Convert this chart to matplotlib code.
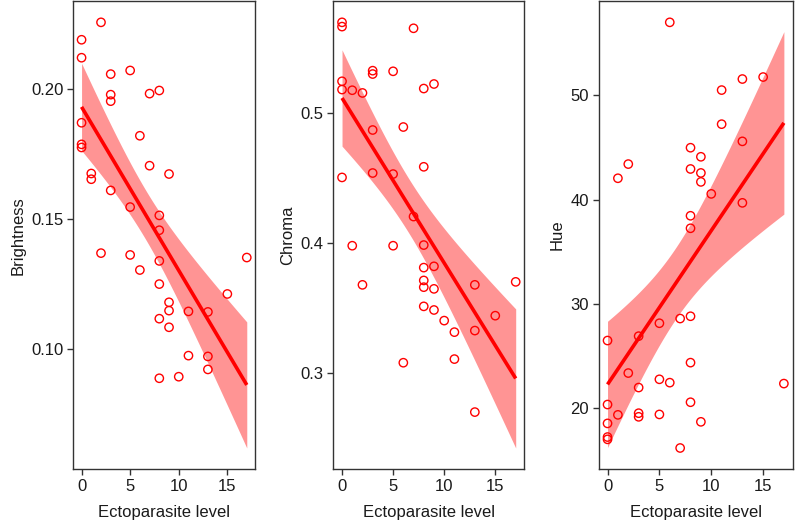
import numpy as np
import matplotlib
matplotlib.use("Agg")
import matplotlib.pyplot as plt

plt.rcParams['font.family'] = ['Liberation Sans', 'DejaVu Sans']

# Ectoparasite level shared by all three panels (one value per bird)
ecto = [0, 0, 0, 0, 0, 1, 1, 2, 2, 3, 3, 3, 3, 5, 5, 5, 6, 6, 7, 7,
        8, 8, 8, 8, 8, 8, 8, 9, 9, 9, 9, 10, 11, 11, 13, 13, 13, 15, 17]

brightness = [0.2189, 0.2120, 0.1870, 0.1787, 0.1775,
              0.1675, 0.1653,
              0.2256, 0.1369,
              0.2057, 0.1978, 0.1953, 0.1610,
              0.2071, 0.1546, 0.1362,
              0.1820, 0.1304,
              0.1982, 0.1705,
              0.1994, 0.1514, 0.1457, 0.1339, 0.1250, 0.1117, 0.0888,
              0.1673, 0.1180, 0.1148, 0.1084,
              0.0894,
              0.1145, 0.0975,
              0.1143, 0.0972, 0.0922,
              0.1212,
              0.1352]

chroma = [0.5703, 0.5670, 0.5248, 0.5184, 0.4506,
          0.5179, 0.3979,
          0.5158, 0.3677,
          0.5330, 0.5304, 0.4872, 0.4540,
          0.5325, 0.4532, 0.3979,
          0.4895, 0.3076,
          0.5657, 0.4204,
          0.5192, 0.4588, 0.3984, 0.3810, 0.3711, 0.3659, 0.3511,
          0.5227, 0.3820, 0.3646, 0.3483,
          0.3401,
          0.3312, 0.3104,
          0.3677, 0.3324, 0.2695,
          0.3439,
          0.3700]

hue = [26.47, 20.33, 18.52, 17.21, 16.99,
       42.04, 19.34,
       43.40, 23.35,
       26.89, 21.96, 19.50, 19.15,
       28.13, 22.75, 19.38,
       57.00, 22.43,
       28.58, 16.16,
       44.97, 42.93, 38.44, 37.24, 28.80, 24.35, 20.55,
       44.10, 42.55, 41.69, 18.67,
       40.54,
       50.50, 47.23,
       51.56, 45.58, 39.68,
       51.75,
       22.34]

panel_names = ["Brightness", "Chroma", "Hue"]
panel_ticks = [[0.10, 0.15, 0.20], [0.3, 0.4, 0.5], [20, 30, 40, 50]]
panel_fmt = ["%.2f", "%.1f", "%d"]
x_ticks = [0, 5, 10, 15]

T_975 = 2.0262  # t quantile, df = n - 2 = 37


def lm_fit(x, y, grid):
    # ordinary least squares with 95% confidence band, like geom_smooth(method="lm")
    x = np.asarray(x, float)
    y = np.asarray(y, float)
    n = len(x)
    slope, intercept = np.polyfit(x, y, 1)
    resid = y - (intercept + slope * x)
    s = np.sqrt(np.sum(resid ** 2) / (n - 2))
    xm = x.mean()
    sxx = np.sum((x - xm) ** 2)
    fit = intercept + slope * grid
    se = s * np.sqrt(1.0 / n + (grid - xm) ** 2 / sxx)
    return fit, fit - T_975 * se, fit + T_975 * se


def main():
    fig = plt.figure(figsize=(7.95, 5.22), dpi=100)
    lefts = [0.0922, 0.4193, 0.7531]
    widths = [0.2286, 0.2403, 0.2440]
    bottom, height = 0.101, 0.897

    x_arr = np.asarray(ecto, float)
    grid = np.linspace(x_arr.min(), x_arr.max(), 80)

    for i, y in enumerate([brightness, chroma, hue]):
        ax = fig.add_axes([lefts[i], bottom, widths[i], height])
        fit, lo, hi = lm_fit(x_arr, y, grid)

        ax.fill_between(grid, lo, hi, color="#ff9494", linewidth=0, zorder=1)
        ax.plot(grid, fit, color="#ff0000", linewidth=2.6, zorder=2,
                solid_capstyle="butt")
        ax.scatter(x_arr, y, s=36, facecolors="none", edgecolors="#ff0000",
                   linewidths=1.0, zorder=3)

        # ggplot-like 5% expansion around data and ribbon
        ymin = min(np.min(y), lo.min())
        ymax = max(np.max(y), hi.max())
        pad = 0.05 * (ymax - ymin)
        ax.set_ylim(ymin - pad, ymax + pad)
        ax.set_xlim(-0.85, 17.85)

        ax.set_xticks(x_ticks)
        ax.set_xticklabels([str(t) for t in x_ticks])
        ax.set_yticks(panel_ticks[i])
        ax.set_yticklabels([panel_fmt[i] % t for t in panel_ticks[i]])
        ax.tick_params(direction="out", length=4, width=1, color="#333333",
                       labelsize=12, labelcolor="#1a1a1a", pad=3)
        for sp in ax.spines.values():
            sp.set_color("#333333")
            sp.set_linewidth(1.0)
        ax.set_xlabel("Ectoparasite level", fontsize=12, color="#1a1a1a",
                      labelpad=8)
        ax.set_ylabel(panel_names[i], fontsize=12, color="#1a1a1a",
                      labelpad=4)

    fig.savefig("out.png", dpi=100)
    plt.close(fig)


if __name__ == "__main__":
    main()
